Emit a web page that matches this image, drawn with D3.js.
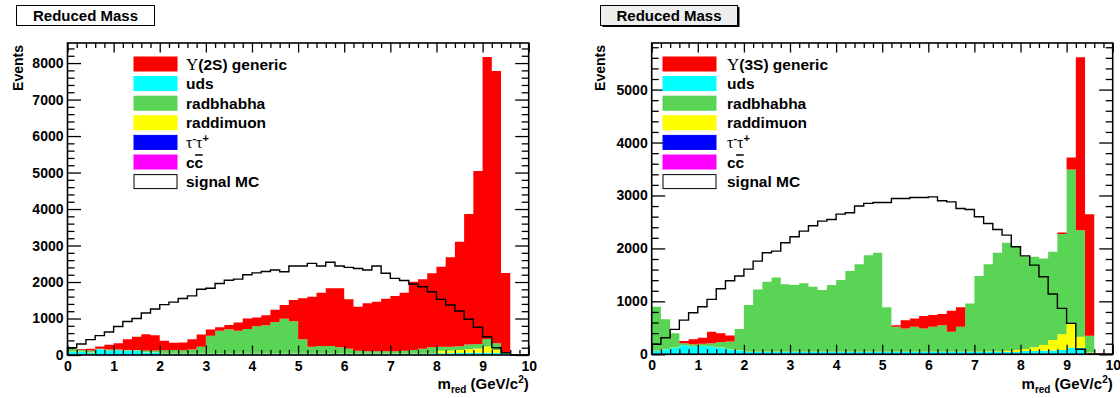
<!DOCTYPE html>
<html>
<head>
<meta charset="utf-8">
<script src="https://cdn.jsdelivr.net/npm/d3@7"></script>
<style>
  body { margin: 0; background: #fff; }
  text { font-family: "Liberation Sans", Arial, sans-serif; font-weight: bold; fill: #000; }
  .serif { font-family: "Liberation Serif", "Times New Roman", serif; font-weight: normal; }
</style>
</head>
<body>
<svg id="chart" width="1120" height="398"></svg>
<script>
// bins: 50 bins of 0.2 GeV/c^2 from 0 to 10
const binLow = d3.range(50).map(i => i * 0.2);
const xTickLabels = [0, 1, 2, 3, 4, 5, 6, 7, 8, 9, 10];
const yTicksLeft = [0, 1000, 2000, 3000, 4000, 5000, 6000, 7000, 8000];
const yTicksRight = [0, 1000, 2000, 3000, 4000, 5000];

// ---- left panel: Upsilon(2S) ----
const L_ccbar = [3,3,3,3,3,3,3,3,3,3, 3,3,3,3,3,3,3,3,3,3, 3,3,3,3,3,3,3,3,3,3, 3,3,3,3,3,3,3,3,3,3, 3,3,3,3,3,3,3,3,10,10];
const L_tautau = [12,12,12,12,12,12,12,12,12,12, 12,12,12,12,12,12,12,12,12,12, 12,12,12,12,12,12,12,12,12,12, 12,12,12,12,12,12,12,12,12,12, 12,12,12,12,12,12,12,12,0,0];
const L_uds = [75,75,50,140,105,105,100,100,60,60, 20,20,20,20,20,20,20,20,20,20, 20,20,20,20,20,20,20,20,20,20, 20,20,20,20,20,20,20,20,20,20, 30,35,40,45,45,50,40,10,0,0];
const L_raddimuon = [5,5,5,5,5,5,5,5,5,5, 5,5,5,5,5,5,5,5,5,5, 5,5,5,5,5,5,5,5,5,5, 5,5,5,5,5,5,5,5,5,5, 70,70,80,95,120,165,80,5,0,0];
const L_radbhabha = [95,42,50,10,25,25,20,15,40,40, 93,98,93,113,188,490,627,663,627,672, 745,772,864,956,882,389,188,207,207,170, 134,79,60,60,60,60,79,97,134,170, 113,108,105,130,120,208,185,27,0,0];
const L_generic = [0,18,50,60,130,170,290,365,450,420, 257,197,212,277,332,170,93,117,223,288, 245,278,336,374,585,1123,1370,1461,1579,1616, 1351,1205,1315,1361,1443,1516,1589,1872,1899,2028, 2192,2448,2865,3579,4742,7727,7462,2188,0,0];
const L_signal = [200,300,420,530,630,780,920,1000,1150,1260, 1380,1450,1550,1620,1800,1830,1960,2050,2080,2200, 2250,2290,2330,2280,2440,2440,2510,2440,2540,2440, 2400,2370,2330,2440,2240,2100,2040,1945,1870,1735, 1525,1370,1205,980,760,500,200,60,0,0];

// ---- right panel: Upsilon(3S) ----
const R_ccbar = [3,3,3,3,3,3,3,3,3,3, 3,3,3,3,3,3,3,3,3,3, 3,3,3,3,3,3,3,3,3,3, 3,3,3,3,3,3,3,3,3,3, 3,3,3,3,3,3,3,3,0,0];
const R_tautau = [10,10,10,10,10,10,10,10,10,10, 10,10,10,10,10,10,10,10,10,10, 10,10,10,10,10,10,10,10,10,10, 10,10,10,10,10,10,10,10,10,10, 10,10,10,10,10,10,10,10,0,0];
const R_uds = [50,83,113,156,132,145,132,113,83,63, 30,30,30,30,30,30,30,30,30,30, 30,30,30,30,30,30,30,30,30,30, 30,30,30,30,30,30,30,30,30,30, 50,50,55,60,70,110,110,10,0,0];
const R_raddimuon = [3,3,3,3,3,3,3,3,3,3, 3,3,3,3,3,3,3,3,3,3, 3,3,3,3,3,3,3,3,3,3, 3,3,3,3,3,3,8,10,25,40, 37,69,107,197,294,462,209,10,0,0];
const R_radbhabha = [832,561,267,36,42,39,60,101,141,398, 884,1180,1324,1407,1275,1262,1294,1231,1168,1262, 1357,1527,1657,1827,1871,841,473,441,473,441, 473,504,381,473,915,1431,1652,1864,2039,1948, 1749,1710,1636,1667,1893,2906,2013,318,0,0];
const R_generic = [0,0,0,43,93,114,219,166,113,0, 0,0,0,0,0,0,0,0,0,0, 0,0,0,0,0,0,31,158,157,237, 223,211,397,368,0,0,0,0,0,0, 0,0,0,0,30,226,3265,2296,15,0];
const R_signal = [189,313,471,646,785,898,1037,1238,1389,1478, 1609,1760,1918,1949,2107,2220,2327,2428,2516,2547, 2648,2673,2800,2850,2868,2868,2942,2942,2962,2962, 2974,2899,2880,2754,2735,2597,2471,2357,2251,2031, 1860,1684,1464,1140,868,585,95,0,0,0];

// stack order, bottom -> top
const stackKeys = ["ccbar", "tautau", "uds", "raddimuon", "radbhabha", "generic"];
const colors = {
  generic: "#ff0000", uds: "#00ffff", radbhabha: "#59d454",
  raddimuon: "#ffff00", tautau: "#0000ff", ccbar: "#ff00ff"
};

const svg = d3.select("#chart");

function drawPanel(cfg) {
  const g = svg.append("g");

  const x = d3.scaleLinear().domain([0, 10]).range([cfg.x0, cfg.x1]);
  const y = d3.scaleLinear().domain([0, cfg.yMax]).range([cfg.yBot, cfg.yTop]);

  // rows for the stack, plus a closing row at x=10 for the step curve
  const rows = binLow.map((b, i) => {
    const r = { x: b };
    stackKeys.forEach(k => r[k] = cfg.series[k][i]);
    return r;
  });
  rows.push(Object.assign({}, rows[rows.length - 1], { x: 10 }));

  const stacked = d3.stack().keys(stackKeys)(rows);

  const area = d3.area()
      .curve(d3.curveStepAfter)
      .x(d => x(d.data.x))
      .y0(d => y(d[0]))
      .y1(d => y(d[1]));

  g.selectAll(".layer")
    .data(stacked)
    .enter()
    .append("path")
      .attr("class", "layer")
      .attr("d", area)
      .attr("fill", d => colors[d.key])
      .attr("stroke", "none");

  // signal MC outline
  const sig = [{ x: 0, v: 0 }].concat(binLow.map((b, i) => ({ x: b, v: cfg.signal[i] })));
  sig.push({ x: 10, v: 0 });
  const line = d3.line()
      .curve(d3.curveStepAfter)
      .x(d => x(d.x))
      .y(d => y(d.v));
  g.append("path")
    .attr("d", line(sig))
    .attr("fill", "none")
    .attr("stroke", "#000")
    .attr("stroke-width", 1.4);

  // --- axes (ROOT style ticks on all four sides) ---
  const yMinor = d3.range(0, cfg.yMax, 200).filter(v => v % 1000 !== 0);
  const xMinor = d3.range(0, 50).map(i => i * 0.2).filter((v, i) => i % 5 !== 0);

  function tickGroup(axis, tx, ty) {
    const a = g.append("g")
        .attr("transform", `translate(${tx},${ty})`)
        .call(axis);
    a.select(".domain").remove();
    a.selectAll("line").attr("stroke", "#000").attr("stroke-width", 1.3);
    return a;
  }

  // left side ticks pointing inward
  tickGroup(d3.axisRight(y).tickValues(cfg.yTicks).tickSize(13.5).tickFormat(""), cfg.x0, 0);
  tickGroup(d3.axisRight(y).tickValues(yMinor).tickSize(7).tickFormat(""), cfg.x0, 0);
  // right side
  tickGroup(d3.axisLeft(y).tickValues(cfg.yTicks).tickSize(13.5).tickFormat(""), cfg.x1, 0);
  tickGroup(d3.axisLeft(y).tickValues(yMinor).tickSize(7).tickFormat(""), cfg.x1, 0);
  // bottom
  tickGroup(d3.axisTop(x).tickValues(xTickLabels).tickSize(9.5).tickFormat(""), 0, cfg.yBot);
  tickGroup(d3.axisTop(x).tickValues(xMinor).tickSize(5).tickFormat(""), 0, cfg.yBot);
  // top
  tickGroup(d3.axisBottom(x).tickValues(xTickLabels).tickSize(9.5).tickFormat(""), 0, cfg.yTop);
  tickGroup(d3.axisBottom(x).tickValues(xMinor).tickSize(5).tickFormat(""), 0, cfg.yTop);

  // tick labels
  const yl = tickGroup(d3.axisLeft(y).tickValues(cfg.yTicks).tickSize(0).tickPadding(4).tickFormat(d3.format("d")), cfg.x0, 0);
  yl.selectAll("text").attr("font-size", 14);
  const xl = tickGroup(d3.axisBottom(x).tickValues(xTickLabels).tickSize(0).tickPadding(6).tickFormat(d3.format("d")), 0, cfg.yBot);
  xl.selectAll("text").attr("font-size", 14);
  g.selectAll(".tick text").attr("font-family", null).style("font-weight", "bold");

  // frame
  g.append("rect")
    .attr("x", cfg.x0).attr("y", cfg.yTop)
    .attr("width", cfg.x1 - cfg.x0).attr("height", cfg.yBot - cfg.yTop)
    .attr("fill", "none").attr("stroke", "#000").attr("stroke-width", 1.6);

  // y title
  g.append("text")
    .attr("transform", `translate(${cfg.eventsX},${cfg.yTop + 2}) rotate(-90)`)
    .attr("text-anchor", "end")
    .attr("font-size", 14)
    .text("Events");

  // x title
  const xt = g.append("text")
    .attr("x", cfg.x1).attr("y", 389)
    .attr("text-anchor", "end")
    .attr("font-size", 15);
  xt.append("tspan").text("m");
  xt.append("tspan").attr("font-size", 10).attr("dy", 4).text("red");
  xt.append("tspan").attr("dy", -4).text(" (GeV/c");
  xt.append("tspan").attr("font-size", 10).attr("dy", -6).text("2");
  xt.append("tspan").attr("dy", 6).text(")");

  // title box
  const tb = g.append("g");
  if (cfg.titleShadow) {
    tb.append("rect")
      .attr("x", cfg.titleX + 2).attr("y", 7)
      .attr("width", cfg.titleW).attr("height", 20)
      .attr("fill", "#000");
  }
  tb.append("rect")
    .attr("x", cfg.titleX).attr("y", 5.5)
    .attr("width", cfg.titleW).attr("height", 20)
    .attr("fill", cfg.titleFill).attr("stroke", "#000").attr("stroke-width", 1);
  tb.append("text")
    .attr("x", cfg.titleX + cfg.titleW / 2).attr("y", 21)
    .attr("text-anchor", "middle")
    .attr("font-size", 15)
    .text("Reduced Mass");

  // legend
  const legendRows = ["generic", "uds", "radbhabha", "raddimuon", "tautau", "ccbar", "signal"];
  const leg = g.append("g");
  legendRows.forEach((k, i) => {
    const cy = 64 + i * 19.6;
    leg.append("rect")
      .attr("x", cfg.legX).attr("y", cy - 7)
      .attr("width", cfg.legW).attr("height", 14)
      .attr("fill", k === "signal" ? "#fff" : colors[k])
      .attr("stroke", k === "signal" ? "#000" : colors[k])
      .attr("stroke-width", 1);
    const t = leg.append("text")
      .attr("x", cfg.legTextX).attr("y", cy + 5.5)
      .attr("font-size", 15.5);
    if (k === "generic") {
      t.append("tspan").attr("class", "serif").attr("font-size", 17).text("\u03A5");
      t.append("tspan").text(cfg.genericLabel);
    } else if (k === "tautau") {
      t.append("tspan").attr("class", "serif").attr("font-size", 16).text("\u03C4");
      t.append("tspan").attr("font-size", 11).attr("dy", -6).text("-");
      t.append("tspan").attr("class", "serif").attr("font-size", 16).attr("dy", 6).text("\u03C4");
      t.append("tspan").attr("font-size", 11).attr("dy", -6).text("+");
    } else if (k === "ccbar") {
      t.text("cc");
      // bar over the second c
      const node = t.node();
      const sx = node.getStartPositionOfChar(1).x;
      const w = node.getSubStringLength(1, 1);
      leg.append("line")
        .attr("x1", sx + 0.5).attr("x2", sx + w - 0.5)
        .attr("y1", cy - 7).attr("y2", cy - 7)
        .attr("stroke", "#000").attr("stroke-width", 1.5);
    } else if (k === "signal") {
      t.text("signal MC");
    } else {
      t.text(k);
    }
  });
}

drawPanel({
  x0: 67.5, x1: 528.7, yTop: 43, yBot: 355, yMax: 8550, yTicks: yTicksLeft,
  series: { ccbar: L_ccbar, tautau: L_tautau, uds: L_uds, raddimuon: L_raddimuon, radbhabha: L_radbhabha, generic: L_generic },
  signal: L_signal,
  eventsX: 23, titleX: 16.5, titleW: 138, titleFill: "#fff", titleShadow: false,
  legX: 134, legW: 43, legTextX: 186, genericLabel: "(2S) generic"
});

drawPanel({
  x0: 651.7, x1: 1112.7, yTop: 43, yBot: 354.3, yMax: 5880, yTicks: yTicksRight,
  series: { ccbar: R_ccbar, tautau: R_tautau, uds: R_uds, raddimuon: R_raddimuon, radbhabha: R_radbhabha, generic: R_generic },
  signal: R_signal,
  eventsX: 605, titleX: 600.5, titleW: 137, titleFill: "#eeeeee", titleShadow: true,
  legX: 663, legW: 53, legTextX: 727, genericLabel: "(3S) generic"
});
</script>
</body>
</html>
